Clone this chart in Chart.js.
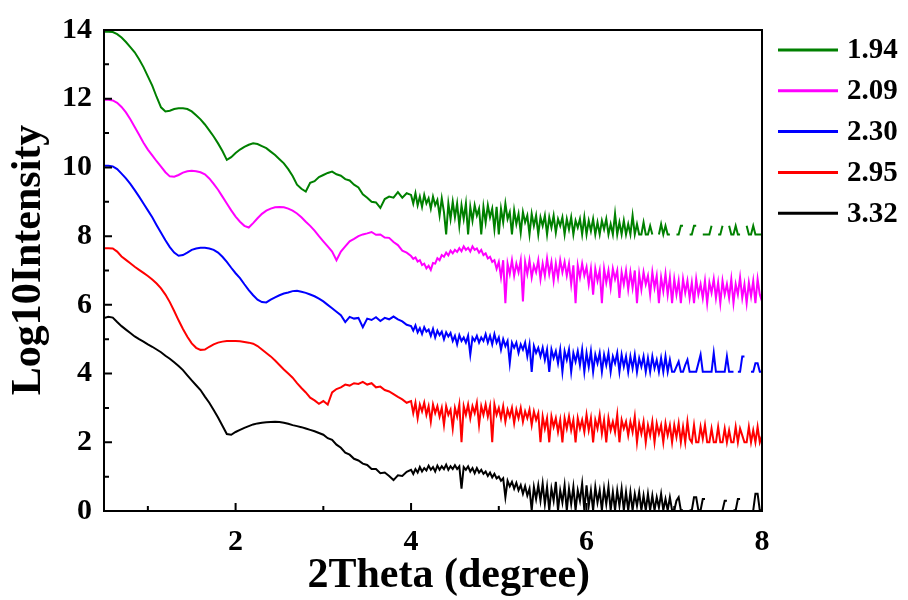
<!DOCTYPE html>
<html>
<head>
<meta charset="utf-8">
<script src="https://cdn.jsdelivr.net/npm/chart.js@4.4.1/dist/chart.umd.min.js"></script>
<style>
    html, body { margin: 0; padding: 0; background: #fff; }
    #chart { display: block; }
</style>
</head>
<body>
<canvas id="chart" width="908" height="600"></canvas>
<script>
// 2Theta (degree) sampling shared by all curves (finer where the data is noisy)
const twoTheta = [
    0.50, 0.55, 0.60, 0.65, 0.70, 0.75, 0.80, 0.85, 0.90, 0.95,
    1.00, 1.05, 1.10, 1.15, 1.20, 1.25, 1.30, 1.35, 1.40, 1.45,
    1.50, 1.55, 1.60, 1.65, 1.70, 1.75, 1.80, 1.85, 1.90, 1.95,
    2.00, 2.05, 2.10, 2.15, 2.20, 2.25, 2.30, 2.35, 2.40, 2.45,
    2.50, 2.55, 2.60, 2.65, 2.70, 2.75, 2.80, 2.85, 2.90, 2.95,
    3.00, 3.05, 3.10, 3.15, 3.20, 3.25, 3.30, 3.35, 3.40, 3.45,
    3.50, 3.55, 3.60, 3.65, 3.70, 3.75, 3.80, 3.85, 3.90, 3.95,
    4.000, 4.025, 4.050, 4.075, 4.100, 4.125, 4.150, 4.175, 4.200, 4.225,
    4.250, 4.275, 4.300, 4.325, 4.350, 4.375, 4.400, 4.425, 4.450, 4.475,
    4.500, 4.525, 4.550, 4.575, 4.600, 4.625, 4.650, 4.675, 4.700, 4.725,
    4.750, 4.775, 4.800, 4.825, 4.850, 4.875, 4.900, 4.925, 4.950, 4.975,
    5.000, 5.025, 5.050, 5.075, 5.100, 5.125, 5.150, 5.175, 5.200, 5.225,
    5.250, 5.275, 5.300, 5.325, 5.350, 5.375, 5.400, 5.425, 5.450, 5.475,
    5.500, 5.525, 5.550, 5.575, 5.600, 5.625, 5.650, 5.675, 5.700, 5.725,
    5.750, 5.775, 5.800, 5.825, 5.850, 5.875, 5.900, 5.925, 5.950, 5.975,
    6.000, 6.025, 6.050, 6.075, 6.100, 6.125, 6.150, 6.175, 6.200, 6.225,
    6.250, 6.275, 6.300, 6.325, 6.350, 6.375, 6.400, 6.425, 6.450, 6.475,
    6.500, 6.525, 6.550, 6.575, 6.600, 6.625, 6.650, 6.675, 6.700, 6.725,
    6.750, 6.775, 6.800, 6.825, 6.850, 6.875, 6.900, 6.925, 6.950, 6.975,
    7.000, 7.025, 7.050, 7.075, 7.100, 7.125, 7.150, 7.175, 7.200, 7.225,
    7.250, 7.275, 7.300, 7.325, 7.350, 7.375, 7.400, 7.425, 7.450, 7.475,
    7.500, 7.525, 7.550, 7.575, 7.600, 7.625, 7.650, 7.675, 7.700, 7.725,
    7.750, 7.775, 7.800, 7.825, 7.850, 7.875, 7.900, 7.925, 7.950, 7.975,
    8.000
];

// Log10Intensity of each sample (offset curves), null = no counts
const s194 = [
    13.95, 13.95, 13.94, 13.88, 13.78, 13.65, 13.5, 13.35, 13.15, 12.92,
    12.65, 12.38, 12.05, 11.75, 11.63, 11.65, 11.7, 11.72, 11.72, 11.7,
    11.63, 11.52, 11.4, 11.25, 11.08, 10.9, 10.7, 10.48, 10.22, 10.3,
    10.42, 10.52, 10.6, 10.66, 10.7, 10.68, 10.62, 10.56, 10.46, 10.36,
    10.24, 10.12, 9.95, 9.75, 9.5, 9.38, 9.3, 9.55, 9.6, 9.72,
    9.78, 9.84, 9.88, 9.8, 9.76, 9.66, 9.62, 9.5, 9.42, 9.22,
    9.12, 9.0, 8.98, 8.82, 9.08, 9.15, 9.12, 9.28, 9.12, 9.25,
    9.2, 8.95, 9.25, 8.9, 9.15, 8.85, 9.2, 8.95, 9.1, 8.8,
    9.15, 8.9, 9.05, 8.6, 9.1, 8.7, 8.05, 8.95, 8.5, 9.0,
    8.55, 8.95, 8.3, 8.9, 8.5, 8.95, 8.05, 8.85, 8.45, 8.9,
    8.6, 8.8, 8.05, 8.85, 8.4, 8.9, 8.55, 8.8, 8.2, 8.85,
    8.05, 8.8, 8.4, 8.95, 8.5, 8.7, 8.05, 8.75, 8.35, 8.65,
    8.1, 8.7, 8.4, 8.6, 8.05, 8.65, 8.3, 8.6, 8.05, 8.55,
    8.3, 8.6, 8.05, 8.55, 8.25, 8.6, 8.1, 8.5, 8.3, 8.55,
    8.05, 8.5, 8.2, 8.55, 8.05, 8.45, 8.25, 8.5, 8.05, 8.55,
    8.05, 8.45, 8.15, 8.5, 8.05, 8.4, 8.05, 8.45, 8.2, 8.5,
    8.05, 8.35, 8.05, 8.65, 8.05, 8.4, 8.05, 8.45, 8.05, 8.35,
    8.05, 8.6, 8.05, 8.35, 8.05, 8.05, 8.4, 8.05, 8.05, 8.3,
    8.05, null, null, 8.05, 8.35, 8.05, 8.3, 8.05, 8.05, null,
    null, 8.05, 8.05, 8.3, 8.3, null, null, 8.05, 8.05, 8.3,
    8.3, null, null, 8.05, 8.05, 8.05, 8.05, 8.3, null, null,
    8.05, 8.05, 8.3, null, null, 8.3, 8.05, 8.05, 8.3, 8.05,
    8.05, null, null, 8.3, 8.05, 8.05, 8.3, 8.05, 8.05, 8.05,
    8.05
];
const s209 = [
    11.97, 11.97, 11.95, 11.88, 11.76, 11.6, 11.4, 11.18, 10.95, 10.72,
    10.52, 10.35, 10.18, 10.02, 9.86, 9.74, 9.73, 9.78, 9.85, 9.89,
    9.9, 9.89, 9.86, 9.8, 9.68, 9.52, 9.35, 9.15, 8.95, 8.75,
    8.57, 8.42, 8.3, 8.25, 8.38, 8.52, 8.65, 8.74, 8.8, 8.84,
    8.85, 8.84, 8.8, 8.74, 8.66, 8.55, 8.42, 8.3, 8.16, 8.0,
    7.85, 7.7, 7.55, 7.3, 7.55, 7.7, 7.85, 7.92, 8.0, 8.05,
    8.08, 8.12, 8.04, 8.05, 7.96, 7.95, 7.83, 7.74, 7.58, 7.52,
    7.42, 7.34, 7.38, 7.26, 7.3, 7.16, 7.2, 7.06, 7.14, 7.02,
    7.22, 7.2, 7.36, 7.3, 7.45, 7.4, 7.52, 7.44, 7.58, 7.5,
    7.6, 7.54, 7.65, 7.56, 7.7, 7.6, 7.66, 7.55, 7.7, 7.6,
    7.64, 7.52, 7.6, 7.45, 7.5, 7.35, 7.4, 7.25, 7.3, 7.05,
    7.25, 6.8, 7.3, 6.05, 7.2, 6.9, 7.3, 6.85, 7.2, 6.95,
    7.3, 6.1, 7.25, 6.9, 7.3, 6.8, 7.15, 6.95, 7.3, 6.75,
    7.2, 6.85, 7.35, 6.9, 7.25, 6.7, 7.2, 6.8, 7.3, 6.95,
    7.25, 6.85, 7.2, 6.6, 7.15, 6.05, 7.15, 6.8, 7.2, 6.85,
    7.1, 6.6, 7.05, 6.3, 7.05, 6.7, 7.0, 6.05, 7.05, 6.65,
    7.0, 6.5, 7.05, 6.75, 7.0, 6.2, 6.95, 6.6, 7.0, 6.45,
    6.95, 6.5, 7.0, 6.05, 6.9, 6.45, 6.95, 6.6, 6.85, 6.3,
    6.95, 6.5, 6.85, 6.05, 6.8, 6.4, 6.9, 6.3, 6.8, 6.05,
    6.75, 6.3, 6.7, 6.05, 6.75, 6.35, 6.7, 6.2, 6.65, 6.05,
    6.75, 6.3, 6.6, 6.2, 6.7, 6.05, 6.65, 6.35, 6.75, 6.2,
    6.65, 6.05, 6.7, 6.3, 6.6, 6.2, 6.75, 6.05, 6.6, 6.3,
    6.8, 6.2, 6.6, 6.05, 6.65, 6.25, 6.7, 6.05, 6.75, 6.3,
    6.1
];
const s230 = [
    10.05, 10.05, 10.03, 9.95, 9.82, 9.68, 9.52, 9.34, 9.15, 8.95,
    8.75, 8.55, 8.32, 8.1, 7.88, 7.68, 7.52, 7.43, 7.45, 7.52,
    7.6, 7.64, 7.66, 7.66, 7.64, 7.6, 7.52, 7.4, 7.25, 7.08,
    6.92, 6.78, 6.6, 6.43, 6.28, 6.15, 6.08, 6.07, 6.15, 6.22,
    6.28, 6.33, 6.36, 6.4, 6.41, 6.38, 6.35, 6.3, 6.25, 6.18,
    6.1, 6.0, 5.9, 5.8, 5.7, 5.5, 5.65, 5.6, 5.62, 5.35,
    5.6, 5.56, 5.64, 5.53, 5.62, 5.58, 5.66, 5.58, 5.52, 5.42,
    5.38, 5.25, 5.4, 5.2, 5.32, 5.15, 5.35, 5.22, 5.28, 5.1,
    5.3, 5.05, 5.25, 5.12, 5.22, 5.0, 5.2, 5.08, 5.18, 4.95,
    5.1, 4.85, 5.12, 4.95, 5.05, 4.9, 5.1, 4.55, 5.05, 4.95,
    5.1, 4.9, 5.05, 4.95, 5.15, 4.9, 5.1, 4.85, 5.15, 4.9,
    5.05, 4.7, 5.0, 4.8, 4.95, 4.3, 4.9, 4.75, 4.9, 4.6,
    4.85, 4.7, 4.9, 4.5, 4.85, 4.05, 4.8, 4.6, 4.75, 4.5,
    4.75, 4.4, 4.7, 4.05, 4.7, 4.45, 4.65, 4.3, 4.7, 4.05,
    4.65, 4.4, 4.7, 4.05, 4.6, 4.35, 4.65, 4.25, 4.7, 4.05,
    4.6, 4.2, 4.65, 4.05, 4.55, 4.3, 4.6, 4.05, 4.55, 4.25,
    4.6, 4.05, 4.5, 4.3, 4.6, 4.05, 4.55, 4.2, 4.5, 4.05,
    4.5, 4.15, 4.55, 4.05, 4.45, 4.2, 4.5, 4.05, 4.45, 4.05,
    4.5, 4.15, 4.4, 4.05, 4.45, 4.05, 4.5, 4.05, 4.4, 4.05,
    4.05, 4.2, 4.35, 4.05, 4.05, 4.25, 4.4, 4.05, 4.05, 4.05,
    4.05, 4.3, 4.55, 4.05, 4.05, 4.05, 4.05, 4.05, 4.6, 4.05,
    4.05, 4.05, 4.05, 4.05, 4.5, 4.05, 4.05, 4.05, null, 4.05,
    4.05, 4.5, 4.5, null, null, 4.05, 4.05, 4.3, 4.3, 4.05,
    4.05
];
const s295 = [
    7.65, 7.65, 7.64, 7.55, 7.41, 7.31, 7.21, 7.11, 7.02, 6.93,
    6.84, 6.74, 6.62, 6.48, 6.3, 6.08, 5.82, 5.55, 5.3, 5.07,
    4.88, 4.75, 4.69, 4.7, 4.78, 4.85, 4.9, 4.93, 4.95, 4.95,
    4.95, 4.94, 4.92, 4.9, 4.87, 4.8, 4.7, 4.6, 4.5, 4.38,
    4.25, 4.12, 4.0, 3.88, 3.72, 3.58, 3.45, 3.3, 3.22, 3.12,
    3.2, 3.1, 3.45, 3.55, 3.6, 3.68, 3.65, 3.72, 3.7, 3.76,
    3.68, 3.72, 3.6, 3.62, 3.52, 3.48, 3.4, 3.32, 3.25, 3.15,
    3.2, 2.85, 3.15, 2.7, 3.1, 2.9, 3.15, 2.8, 3.05, 2.6,
    3.1, 2.85, 3.05, 2.75, 3.0, 2.5, 3.05, 2.8, 2.95, 2.4,
    3.0, 2.75, 3.1, 2.0, 3.05, 2.8, 3.1, 2.7, 3.05, 2.85,
    3.15, 2.5, 3.05, 2.8, 3.1, 2.75, 3.05, 2.0, 3.1, 2.8,
    3.0, 2.7, 3.05, 2.6, 2.95, 2.75, 3.0, 2.55, 2.95, 2.7,
    3.0, 2.6, 2.9, 2.7, 2.95, 2.5, 2.9, 2.65, 2.85, 2.0,
    2.75, 2.4, 2.7, 2.0, 2.75, 2.45, 2.7, 2.3, 2.65, 2.0,
    2.7, 2.4, 2.75, 2.35, 2.65, 2.0, 2.7, 2.4, 2.65, 2.3,
    2.8, 2.35, 2.7, 2.0, 2.65, 2.4, 2.8, 2.25, 2.65, 2.0,
    2.7, 2.35, 2.6, 2.3, 2.8, 2.0, 2.65, 2.4, 2.6, 2.2,
    2.6, 2.3, 2.75, 2.0, 2.55, 2.25, 2.6, 2.0, 2.5, 2.2,
    2.6, 2.0, 2.55, 2.25, 2.5, 2.0, 2.55, 2.2, 2.5, 2.0,
    2.5, 2.15, 2.55, 2.0, 2.45, 2.0, 2.6, 2.1, 2.0, 2.5,
    2.0, 2.0, 2.45, 2.1, 2.5, 2.0, 2.0, 2.4, 2.0, 2.0,
    2.45, 2.0, 2.0, 2.4, 2.0, 2.35, 2.0, 2.0, 2.45, 2.0,
    2.4, 2.2, 2.0, 2.0, 2.45, 2.0, 2.35, 2.0, 2.45, 2.0,
    2.2
];
const s332 = [
    5.62, 5.65, 5.63, 5.5, 5.38, 5.28, 5.18, 5.08, 5.0, 4.93,
    4.85, 4.78, 4.7, 4.62, 4.52, 4.43, 4.33, 4.22, 4.1, 3.95,
    3.8, 3.66, 3.52, 3.33, 3.15, 2.94, 2.72, 2.48, 2.24, 2.22,
    2.3, 2.36, 2.42, 2.47, 2.52, 2.55, 2.57, 2.58, 2.59, 2.6,
    2.59, 2.57, 2.54, 2.5, 2.47, 2.44, 2.4, 2.36, 2.32, 2.27,
    2.22, 2.12, 2.07, 1.93, 1.84, 1.7, 1.64, 1.52, 1.47, 1.38,
    1.34, 1.22, 1.22, 1.1, 1.12, 1.02, 0.9, 1.04, 1.02, 1.14,
    1.2, 1.08, 1.22, 1.12, 1.28, 1.15, 1.25, 1.18, 1.32, 1.2,
    1.28, 1.15, 1.32, 1.2, 1.3, 1.22, 1.35, 1.2, 1.3, 1.22,
    1.33, 1.22, 1.3, 0.65, 1.28, 1.2, 1.3, 1.15, 1.25, 1.1,
    1.25, 1.12, 1.2, 1.08, 1.15, 1.02, 1.12, 0.98, 1.08, 0.95,
    1.0, 0.88, 0.95, 0.4, 0.88, 0.72, 0.85, 0.65, 0.82, 0.6,
    0.75, 0.5, 0.72, 0.45, 0.65, 0.02, 0.7, 0.35, 0.75, 0.3,
    0.8, 0.2, 0.7, 0.02, 0.65, 0.3, 0.85, 0.02, 0.6, 0.25,
    0.75, 0.02, 0.65, 0.2, 0.7, 0.02, 0.6, 0.3, 0.8, 0.02,
    0.75, 0.15, 0.6, 0.02, 0.7, 0.25, 0.6, 0.02, 0.65, 0.2,
    0.7, 0.02, 0.55, 0.02, 0.6, 0.15, 0.65, 0.02, 0.55, 0.02,
    0.55, 0.02, 0.5, 0.15, 0.55, 0.02, 0.45, 0.02, 0.5, 0.02,
    0.45, 0.02, 0.4, 0.1, 0.5, 0.02, 0.35, 0.02, 0.4, 0.02,
    0.02, 0.3, 0.4, 0.02, 0.02, null, null, 0.02, 0.02, 0.4,
    0.4, 0.02, 0.02, 0.35, 0.35, null, null, null, null, null,
    null, null, 0.02, 0.3, 0.3, null, null, 0.02, 0.02, 0.35,
    0.35, null, null, null, null, null, 0.02, 0.5, 0.5, 0.02,
    0.02
];

const seriesNames = ["1.94", "2.09", "2.30", "2.95", "3.32"];
const seriesValues = [s194, s209, s230, s295, s332];
const seriesColors = ["#008000", "#ff00ff", "#0000ff", "#ff0000", "#000000"];

// axis ticks
const xMajor = [2, 4, 6, 8];
const xMinor = [1, 3, 5, 7];
const yMajor = [0, 2, 4, 6, 8, 10, 12, 14];
const yMinor = [1, 3, 5, 7, 9, 11, 13];

const serif = "'Liberation Serif', 'Times New Roman', serif";

//frame and inward tick marks
const framePlugin = {
    id: 'frame',
    afterDatasetsDraw(chart) {
        const ctx = chart.ctx;
        const a = chart.chartArea;
        const xs = chart.scales.x;
        const ys = chart.scales.y;
        ctx.save();
        ctx.strokeStyle = '#000';
        ctx.lineWidth = 2;
        ctx.strokeRect(a.left, a.top, a.right - a.left, a.bottom - a.top);
        ctx.beginPath();
        xMajor.forEach(v => {
            const px = xs.getPixelForValue(v);
            ctx.moveTo(px, a.bottom);
            ctx.lineTo(px, a.bottom - 8);
        });
        xMinor.forEach(v => {
            const px = xs.getPixelForValue(v);
            ctx.moveTo(px, a.bottom);
            ctx.lineTo(px, a.bottom - 5);
        });
        yMajor.forEach(v => {
            const py = ys.getPixelForValue(v);
            ctx.moveTo(a.left, py);
            ctx.lineTo(a.left + 8, py);
        });
        yMinor.forEach(v => {
            const py = ys.getPixelForValue(v);
            ctx.moveTo(a.left, py);
            ctx.lineTo(a.left + 5, py);
        });
        ctx.stroke();
        ctx.restore();
    }
};

//legend at the right of the frame
const legendPlugin = {
    id: 'sideLegend',
    afterDraw(chart) {
        const ctx = chart.ctx;
        ctx.save();
        ctx.font = "bold 29px " + serif;
        ctx.textBaseline = 'middle';
        ctx.textAlign = 'left';
        chart.data.datasets.forEach((ds, i) => {
            const y = 50 + i * 40.8;
            ctx.strokeStyle = ds.borderColor;
            ctx.lineWidth = 3;
            ctx.beginPath();
            ctx.moveTo(778, y);
            ctx.lineTo(838, y);
            ctx.stroke();
            ctx.fillStyle = '#000';
            ctx.fillText(ds.label, 847, y + 1);
        });
        ctx.restore();
    }
};

function buildDatasets() {
    return seriesNames.map((name, i) => ({
        label: name,
        data: twoTheta.map((x, j) => ({x: x, y: seriesValues[i][j]})),
        borderColor: seriesColors[i],
        borderWidth: 2,
        pointRadius: 0,
        tension: 0,
        spanGaps: false,
        fill: false
    }));
}

const ctx = document.getElementById('chart').getContext('2d');

window.xrrChart = new Chart(ctx, {
    type: 'line',
    data: {datasets: buildDatasets()},
    options: {
        responsive: false,
        animation: false,
        layout: {padding: {left: 0, right: 146, top: 30, bottom: 0}},
        plugins: {
            legend: {display: false},
            tooltip: {enabled: false}
        },
        scales: {
            x: {
                type: 'linear',
                min: 0.5,
                max: 8,
                afterBuildTicks: scale => { scale.ticks = xMajor.map(v => ({value: v})); },
                afterFit: scale => { scale.height = 89; },
                grid: {display: false, drawTicks: false},
                border: {display: false},
                ticks: {
                    color: '#000',
                    padding: 13,
                    maxRotation: 0,
                    font: {family: serif, size: 30, weight: 'bold'}
                },
                title: {
                    display: true,
                    text: '   2Theta (degree)',
                    color: '#000',
                    padding: {top: 0, bottom: 3},
                    font: {family: serif, size: 42, weight: 'bold', lineHeight: 1}
                }
            },
            y: {
                min: 0,
                max: 14,
                afterBuildTicks: scale => { scale.ticks = yMajor.map(v => ({value: v})); },
                afterFit: scale => { scale.width = 104; },
                grid: {display: false, drawTicks: false},
                border: {display: false},
                ticks: {
                    color: '#000',
                    padding: 12,
                    font: {family: serif, size: 30, weight: 'bold'}
                },
                title: {
                    display: true,
                    text: '  Log10Intensity',
                    color: '#000',
                    padding: {top: 8, bottom: 0},
                    font: {family: serif, size: 42, weight: 'bold', lineHeight: 1}
                }
            }
        }
    },
    plugins: [framePlugin, legendPlugin]
});
</script>
</body>
</html>
